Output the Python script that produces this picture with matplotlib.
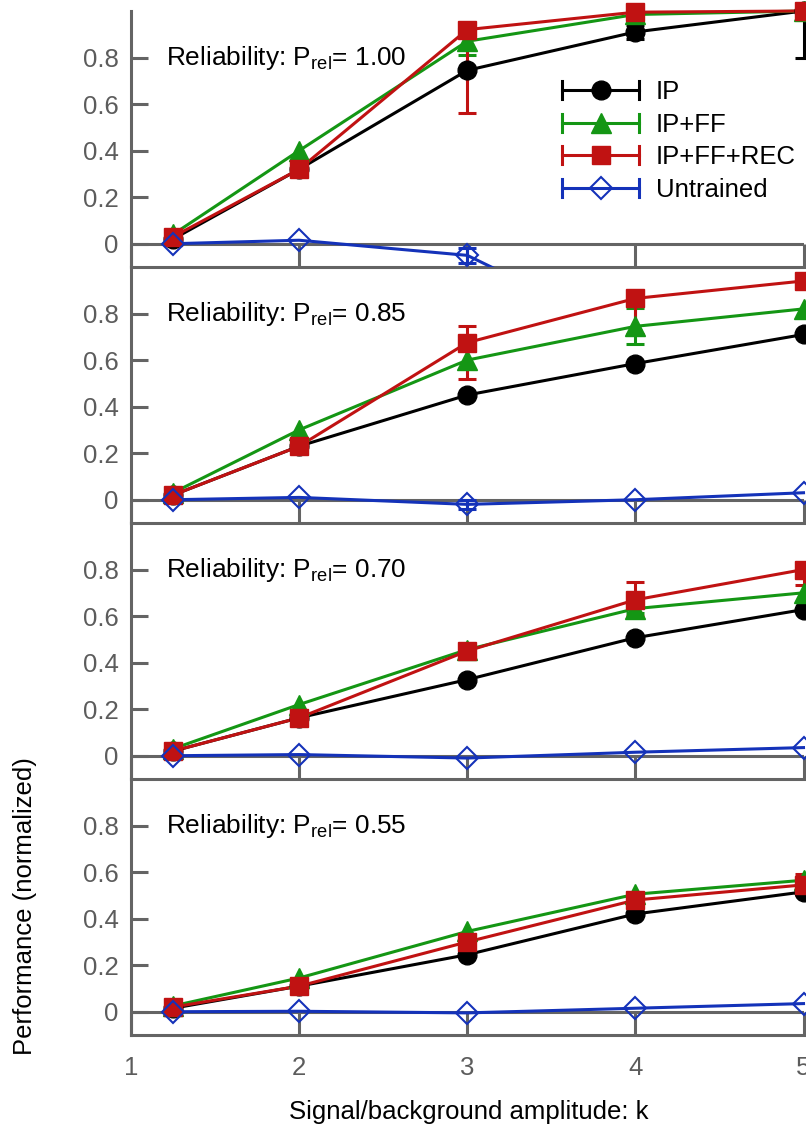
import numpy as np
import matplotlib
matplotlib.use("Agg")
import matplotlib.pyplot as plt
from matplotlib.lines import Line2D
from matplotlib.legend_handler import HandlerLine2D
from matplotlib.patches import Rectangle

plt.rcParams['font.family'] = ['Liberation Sans', 'DejaVu Sans']
plt.rcParams['mathtext.fontset'] = 'custom'
plt.rcParams['mathtext.rm'] = 'Liberation Sans'
plt.rcParams['mathtext.it'] = 'Liberation Sans:italic'

# -- data ------------------------------------------------------------------------
k = np.array([1.25, 2, 3, 4, 5])
p_rel = ["1.00", "0.85", "0.70", "0.55"]

ip = [
    [0.02, 0.32, 0.745, 0.91, 1.00],
    [0.02, 0.23, 0.45, 0.585, 0.71],
    [0.02, 0.163, 0.327, 0.507, 0.628],
    [0.015, 0.11, 0.245, 0.42, 0.515],
]
ip_ff = [
    [0.04, 0.40, 0.87, 0.985, 1.00],
    [0.03, 0.30, 0.60, 0.745, 0.82],
    [0.03, 0.22, 0.456, 0.632, 0.70],
    [0.025, 0.145, 0.345, 0.505, 0.565],
]
ip_ff_rec = [
    [0.03, 0.32, 0.92, 0.995, 1.00],
    [0.02, 0.23, 0.675, 0.865, 0.94],
    [0.02, 0.163, 0.45, 0.67, 0.80],
    [0.02, 0.11, 0.30, 0.48, 0.545],
]
untrained = [
    [0.0, 0.015, -0.05, -0.40, -0.40],
    [0.0, 0.01, -0.02, 0.0, 0.03],
    [0.0, 0.005, -0.01, 0.015, 0.035],
    [0.0, 0.002, -0.005, 0.015, 0.035],
]

# error bars: (panel, point index) -> (lower, upper)
ip_err = {(0, 3): (0.03, 0.03), (0, 4): (0.20, 0.0)}
ip_ff_err = {(0, 2): (0.057, 0.057), (1, 3): (0.078, 0.078), (2, 3): (0.02, 0.02)}
ip_ff_rec_err = {(0, 2): (0.357, 0.0), (1, 2): (0.155, 0.07), (1, 3): (0.155, 0.0),
                 (2, 3): (0.07, 0.075), (2, 4): (0.065, 0.0), (3, 4): (0.045, 0.045)}
untrained_err = {(0, 2): (0.033, 0.033), (1, 2): (0.02, 0.02)}

GRAY = "#646464"
TICK_GRAY = "#5c5c5c"
FS = 18.5
LW = 2.2

series = [
    ("IP", ip, ip_err, dict(color="black", marker="o", ms=13.5, mfc="black", mew=1)),
    ("IP+FF", ip_ff, ip_ff_err, dict(color="#149614", marker="^", ms=14, mfc="#149614", mew=1)),
    ("IP+FF+REC", ip_ff_rec, ip_ff_rec_err, dict(color="#c01212", marker="s", ms=12.5, mfc="#c01212", mew=1)),
    ("Untrained", untrained, untrained_err, dict(color="#1432b9", marker="D", ms=11, mfc="none", mew=1.5)),
]


# -- legend handle: line + marker with caps on both ends ----------------------------
class CapLineHandler(HandlerLine2D):
    def create_artists(self, legend, orig_handle, xdescent, ydescent,
                       width, height, fontsize, trans):
        artists = super().create_artists(legend, orig_handle, xdescent, ydescent,
                                         width, height, fontsize, trans)
        y = (height - ydescent) / 2
        half = 6.5
        for x in (-xdescent, width - xdescent):
            cap = Line2D([x, x], [y - half, y + half],
                         color=orig_handle.get_color(), lw=LW)
            cap.set_transform(trans)
            artists.append(cap)
        return artists


# -- figure ---------------------------------------------------------------------------
W, H = 806, 1130
fig = plt.figure(figsize=(W / 100, H / 100), dpi=100)
left = 131 / W
width = (803.5 - 131) / W
panel_h = 256

axes = []
for i in range(4):
    bottom = 1 - (267 + panel_h * i) / H
    ax = fig.add_axes([left, bottom, width, panel_h / H])
    ax.set_facecolor("none")
    ax.set_xlim(1, 5)
    ax.set_ylim(-0.1, 1.0)

    ax.axhline(0, color=GRAY, lw=2.2, zorder=1)

    for label, data, errs, style in series:
        y = np.array(data[i], dtype=float)
        # line clipped to the panel (slightly taller so y=1 stays visible)
        line, = ax.plot(k, y, color=style["color"], lw=LW, zorder=3)
        line.set_clip_path(Rectangle((-0.02, 0), 1.1, 1.06, transform=ax.transAxes))

        # error bars
        idx = [j for (p, j) in errs if p == i]
        if idx:
            lo = [errs[(i, j)][0] for j in idx]
            hi = [errs[(i, j)][1] for j in idx]
            ax.errorbar(k[idx], y[idx], yerr=[lo, hi], fmt="none",
                        ecolor=style["color"], elinewidth=LW, capsize=6.5,
                        capthick=LW, zorder=3, clip_on=False)

        # markers, only those inside the panel, not clipped at the edges
        inside = (y >= -0.1) & (y <= 1.0)
        ax.plot(k[inside], y[inside], ls="none", marker=style["marker"],
                ms=style["ms"], mfc=style["mfc"], mec=style["color"],
                mew=style["mew"], zorder=4, clip_on=False)

    ax.text(1.21, 0.766, rf"Reliability: P$_{{\rm rel}}$= {p_rel[i]}",
            fontsize=18.9, va="baseline", ha="left")

    for side in ["top", "right"]:
        ax.spines[side].set_visible(False)
    for side in ["left", "bottom"]:
        ax.spines[side].set_color(GRAY)
        ax.spines[side].set_linewidth(2.2)

    ax.set_yticks([0, 0.2, 0.4, 0.6, 0.8])
    ax.set_yticklabels(["0", "0.2", "0.4", "0.6", "0.8"])
    ax.set_xticks([1, 2, 3, 4, 5])
    ax.tick_params(axis="y", direction="in", length=12, width=2.2, color=GRAY,
                   labelsize=FS, labelcolor=TICK_GRAY, pad=9)
    ax.tick_params(axis="x", direction="in", length=16.5, width=2.2, color=GRAY,
                   labelsize=FS, labelcolor=TICK_GRAY, pad=15,
                   labelbottom=(i == 3))
    axes.append(ax)

# -- legend in the top panel -----------------------------------------------------------
handles = [Line2D([], [], color=s["color"], lw=LW, marker=s["marker"], ms=s["ms"],
                  mfc=s["mfc"], mec=s["color"], mew=s["mew"])
           for _, _, _, s in series]
labels = [name for name, _, _, _ in series]
axes[0].legend(handles, labels, loc="upper left", bbox_to_anchor=(0.641, 0.73),
               frameon=False, fontsize=FS, handlelength=3.0, handletextpad=0.65,
               labelspacing=0.33, borderpad=0, borderaxespad=0, numpoints=1,
               handler_map={Line2D: CapLineHandler()})

fig.text(469 / W, 1 - 1112 / H, "Signal/background amplitude: k", fontsize=FS,
         ha="center", va="center")
fig.text(25 / W, 1 - 906 / H, "Performance (normalized)", fontsize=FS,
         ha="center", va="center", rotation=90)

fig.savefig("out.png", dpi=100)
